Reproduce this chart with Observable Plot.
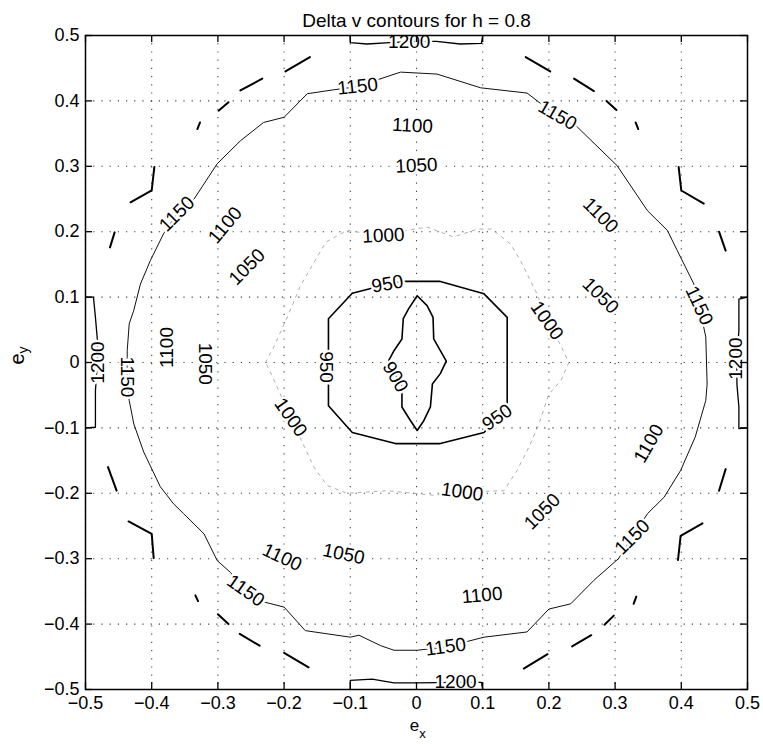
<!DOCTYPE html>
<html>
<head>
<meta charset="utf-8">
<script src="https://cdn.jsdelivr.net/npm/d3@7"></script>
<script src="https://cdn.jsdelivr.net/npm/@observablehq/plot@0.6"></script>
<style>
  html, body { margin: 0; padding: 0; background: #fff; }
</style>
</head>
<body>
<div id="chart"></div>
<script>
// ---------- data ----------
const titleText = "Delta v contours for h = 0.8";
const xTicks = [-0.5, -0.4, -0.3, -0.2, -0.1, 0, 0.1, 0.2, 0.3, 0.4, 0.5];
const xTickLabels = ["\u22120.5", "\u22120.4", "\u22120.3", "\u22120.2", "\u22120.1", "0", "0.1", "0.2", "0.3", "0.4", "0.5"];
const yTicks = [-0.5, -0.4, -0.3, -0.2, -0.1, 0, 0.1, 0.2, 0.3, 0.4, 0.5];
const yTickLabels = ["\u22120.5", "\u22120.4", "\u22120.3", "\u22120.2", "\u22120.1", "0", "0.1", "0.2", "0.3", "0.4", "0.5"];

// contour 900 (closed)
const contour900 = [[0.001,0.102],[-0.012,0.082],[-0.020,0.067],[-0.022,0.036],[-0.034,0.018],[-0.042,0.003],
  [-0.033,-0.017],[-0.022,-0.035],[-0.022,-0.068],[-0.009,-0.089],[0.001,-0.104],[0.011,-0.089],[0.021,-0.068],
  [0.024,-0.033],[0.036,-0.017],[0.045,0.002],[0.036,0.018],[0.026,0.036],[0.025,0.069],[0.016,0.087],[0.001,0.102]];
// contour 950 (closed)
const contour950 = [[-0.097,0.106],[-0.069,0.113],[-0.022,0.124],[0.036,0.124],[0.102,0.105],[0.137,0.069],
  [0.137,-0.066],[0.102,-0.107],[0.036,-0.124],[-0.032,-0.124],[-0.097,-0.107],[-0.133,-0.066],[-0.133,0.067],[-0.097,0.106]];
// contour 1000 (closed, faint)
const contour1000 = [[-0.228,0.0],[-0.215,0.025],[-0.195,0.07],[-0.175,0.118],[-0.137,0.184],[-0.105,0.202],[-0.06,0.195],
  [0.016,0.207],[0.056,0.192],[0.092,0.204],[0.114,0.204],[0.142,0.181],[0.157,0.156],[0.182,0.105],[0.197,0.064],
  [0.218,0.026],[0.230,0.0],[0.218,-0.028],[0.2,-0.048],[0.185,-0.094],[0.17,-0.129],[0.152,-0.165],[0.132,-0.196],
  [0.069,-0.198],[0.026,-0.203],[-0.044,-0.196],[-0.105,-0.2],[-0.135,-0.188],[-0.155,-0.16],[-0.19,-0.084],
  [-0.216,-0.025],[-0.228,0.0]];
// contour 1150 (closed)
const contour1150 = [[-0.054,0.434],[-0.024,0.444],[0.031,0.441],[0.097,0.42],[0.167,0.412],[0.185,0.398],[0.213,0.378],
  [0.243,0.36],[0.303,0.301],[0.349,0.232],[0.379,0.202],[0.394,0.171],[0.419,0.12],[0.427,0.087],[0.437,0.039],
  [0.439,-0.033],[0.437,-0.058],[0.421,-0.114],[0.399,-0.165],[0.374,-0.206],[0.349,-0.231],[0.326,-0.267],[0.305,-0.3],
  [0.268,-0.333],[0.233,-0.369],[0.2,-0.377],[0.167,-0.412],[0.102,-0.42],[0.044,-0.435],[0.001,-0.44],[-0.034,-0.44],
  [-0.054,-0.433],[-0.087,-0.417],[-0.1,-0.42],[-0.168,-0.41],[-0.2,-0.374],[-0.231,-0.366],[-0.258,-0.349],[-0.281,-0.321],
  [-0.301,-0.303],[-0.321,-0.262],[-0.352,-0.231],[-0.367,-0.216],[-0.387,-0.19],[-0.412,-0.137],[-0.427,-0.094],
  [-0.434,-0.058],[-0.437,-0.022],[-0.437,0.018],[-0.434,0.059],[-0.427,0.08],[-0.417,0.12],[-0.402,0.156],[-0.382,0.197],
  [-0.362,0.227],[-0.336,0.25],[-0.301,0.304],[-0.266,0.339],[-0.231,0.367],[-0.2,0.375],[-0.165,0.411],[-0.125,0.417],
  [-0.087,0.422],[-0.054,0.434]];
// contour 1200 pieces along the edges
const contour1200Top = [[-0.1,0.5],[-0.1,0.489],[-0.075,0.487],[-0.04,0.489],[0.0,0.491],[0.03,0.491],[0.066,0.487],[0.098,0.488],[0.1,0.5]];
const contour1200Bottom = [[-0.1,-0.5],[-0.1,-0.486],[-0.067,-0.484],[-0.034,-0.49],[0.0,-0.49],[0.06,-0.489],[0.098,-0.489],[0.1,-0.5]];
const contour1200Left = [[-0.5,0.1],[-0.488,0.1],[-0.485,0.069],[-0.482,0.034],[-0.482,0.0],[-0.485,-0.043],[-0.485,-0.099],[-0.5,-0.1]];
const contour1200Right = [[0.5,0.1],[0.487,0.097],[0.487,0.049],[0.484,0.006],[0.484,-0.033],[0.487,-0.068],[0.487,-0.101],[0.5,-0.1]];
// dashed outer contour, visible pieces in the corners
const cornerDashes = [
  [[-0.463,0.176],[-0.456,0.199]], [[-0.432,0.245],[-0.4,0.263],[-0.396,0.299]], [[-0.331,0.357],[-0.327,0.367]],
  [[-0.299,0.385],[-0.284,0.398]], [[-0.266,0.416],[-0.233,0.434]], [[-0.198,0.445],[-0.161,0.467]],
  [[0.165,0.467],[0.202,0.445]], [[0.238,0.434],[0.268,0.415]], [[0.287,0.4],[0.302,0.386]], [[0.331,0.367],[0.335,0.357]],
  [[0.396,0.299],[0.4,0.263],[0.434,0.243]], [[0.457,0.2],[0.467,0.171]],
  [[0.467,-0.163],[0.457,-0.196]], [[0.432,-0.246],[0.399,-0.265],[0.395,-0.302]], [[0.332,-0.358],[0.328,-0.369]],
  [[0.298,-0.387],[0.284,-0.401]], [[0.264,-0.417],[0.235,-0.434]], [[0.198,-0.446],[0.162,-0.468]],
  [[-0.435,-0.243],[-0.4,-0.262],[-0.397,-0.299]], [[-0.334,-0.356],[-0.33,-0.365]], [[-0.3,-0.385],[-0.284,-0.4]],
  [[-0.267,-0.415],[-0.237,-0.433]], [[-0.2,-0.444],[-0.163,-0.466]], [[-0.466,-0.16],[-0.453,-0.196]]
];
// contour labels: x, y, text, rotation (degrees)
const labelX = [-0.011,-0.089,-0.006,0.0,-0.05,-0.362,-0.289,-0.256,0.213,0.278,0.278,0.197,0.427,0.482,-0.482,-0.437,-0.377,-0.319,-0.136,-0.044,-0.032,0.122,-0.19,0.069,0.19,0.351,0.326,0.099,0.044,0.059,-0.11,-0.203,-0.258];
const labelY = [0.49,0.422,0.362,0.301,0.194,0.227,0.21,0.146,0.378,0.225,0.102,0.064,0.087,0.006,0.0,-0.022,0.023,-0.002,-0.007,0.12,-0.022,-0.084,-0.084,-0.198,-0.228,-0.124,-0.267,-0.356,-0.435,-0.489,-0.293,-0.298,-0.349];
const labelText = ["1200","1150","1100","1050","1000","1150","1100","1050","1150","1100","1050","1000","1150","1200","1200","1150","1100","1050","950","950","900","950","1000","1000","1050","1100","1150","1100","1150","1200","1050","1100","1150"];
const labelAngle = [0,-6,3,-3,-3,-45,-50,-45,30,45,45,55,65,-90,-90,90,-90,90,90,-10,60,-35,55,8,-45,-60,-45,-5,-8,0,12,25,35];

// ---------- build tables ----------
const toRows = (pts, id) => pts.map(([x, y]) => ({x, y, id}));
const solidMain = [...toRows(contour900, "c900"), ...toRows(contour950, "c950")];
const thinLines = [...toRows(contour1150, "c1150")];
const edgeLines = [...toRows(contour1200Top, "t"), ...toRows(contour1200Bottom, "b"),
                   ...toRows(contour1200Left, "l"), ...toRows(contour1200Right, "r")];
const faintLines = toRows(contour1000, "c1000");
const dashRows = cornerDashes.flatMap((seg, i) => toRows(seg, "d" + i));
const labels = labelText.map((t, i) => ({x: labelX[i], y: labelY[i], text: t, angle: labelAngle[i]}));

const fmt = (ticks, labs) => d => labs[ticks.findIndex(t => Math.abs(t - d) < 1e-9)];

const W = 763, H = 744, mT = 35, mR = 16, mB = 55, mL = 85;
const innerW = W - mL - mR, innerH = H - mT - mB;
const font = "'Liberation Sans', Arial, Helvetica, sans-serif";

const chart = Plot.plot({
  width: W, height: H,
  marginTop: mT, marginRight: mR, marginBottom: mB, marginLeft: mL,
  style: {fontFamily: font, fontSize: "18px", background: "white", color: "black"},
  x: {domain: [-0.5, 0.5]},
  y: {domain: [-0.5, 0.5]},
  marks: [
    Plot.gridX(xTicks, {stroke: "#000", strokeOpacity: 0.75, strokeWidth: 1.1, strokeDasharray: "1.2,7"}),
    Plot.gridY(yTicks, {stroke: "#000", strokeOpacity: 0.75, strokeWidth: 1.1, strokeDasharray: "1.2,7"}),
    Plot.line(faintLines, {x: "x", y: "y", z: "id", stroke: "#999", strokeWidth: 0.8, strokeDasharray: "3,5"}),
    Plot.line(thinLines, {x: "x", y: "y", z: "id", stroke: "#111", strokeWidth: 1}),
    Plot.line(edgeLines, {x: "x", y: "y", z: "id", stroke: "#000", strokeWidth: 1.3}),
    Plot.line(solidMain, {x: "x", y: "y", z: "id", stroke: "#000", strokeWidth: 1.6}),
    Plot.line(dashRows, {x: "x", y: "y", z: "id", stroke: "#000", strokeWidth: 2}),
    Plot.text(labels, {x: "x", y: "y", text: "text", rotate: "angle", fontSize: 19,
      fill: "black", stroke: "white", strokeWidth: 5}),
    Plot.frame({stroke: "black", strokeWidth: 1.5}),
    Plot.tickX(xTicks, {x: d => d, insetTop: innerH - 7, stroke: "black", strokeWidth: 1.3}),
    Plot.tickX(xTicks, {x: d => d, insetBottom: innerH - 7, stroke: "black", strokeWidth: 1.3}),
    Plot.tickY(yTicks, {y: d => d, insetRight: innerW - 7, stroke: "black", strokeWidth: 1.3}),
    Plot.tickY(yTicks, {y: d => d, insetLeft: innerW - 7, stroke: "black", strokeWidth: 1.3}),
    Plot.axisX(xTicks, {anchor: "bottom", tickSize: 0, tickPadding: 7, label: null,
      tickFormat: fmt(xTicks, xTickLabels), fontSize: 18}),
    Plot.axisY(yTicks, {anchor: "left", tickSize: 0, tickPadding: 6, label: null,
      tickFormat: fmt(yTicks, yTickLabels), fontSize: 18}),
    Plot.text([titleText], {frameAnchor: "top", dy: -22, text: d => d, fontSize: 19}),
    Plot.text(["e"], {frameAnchor: "bottom", dx: -2, dy: 41, text: d => d, fontSize: 17}),
    Plot.text(["x"], {frameAnchor: "bottom", dx: 6, dy: 48, text: d => d, fontSize: 13}),
    Plot.text(["e"], {frameAnchor: "left", dx: -68, dy: 2, rotate: -90, text: d => d, fontSize: 20}),
    Plot.text(["y"], {frameAnchor: "left", dx: -62, dy: -9, rotate: -90, text: d => d, fontSize: 14})
  ]
});
document.getElementById("chart").appendChild(chart);
</script>
</body>
</html>
